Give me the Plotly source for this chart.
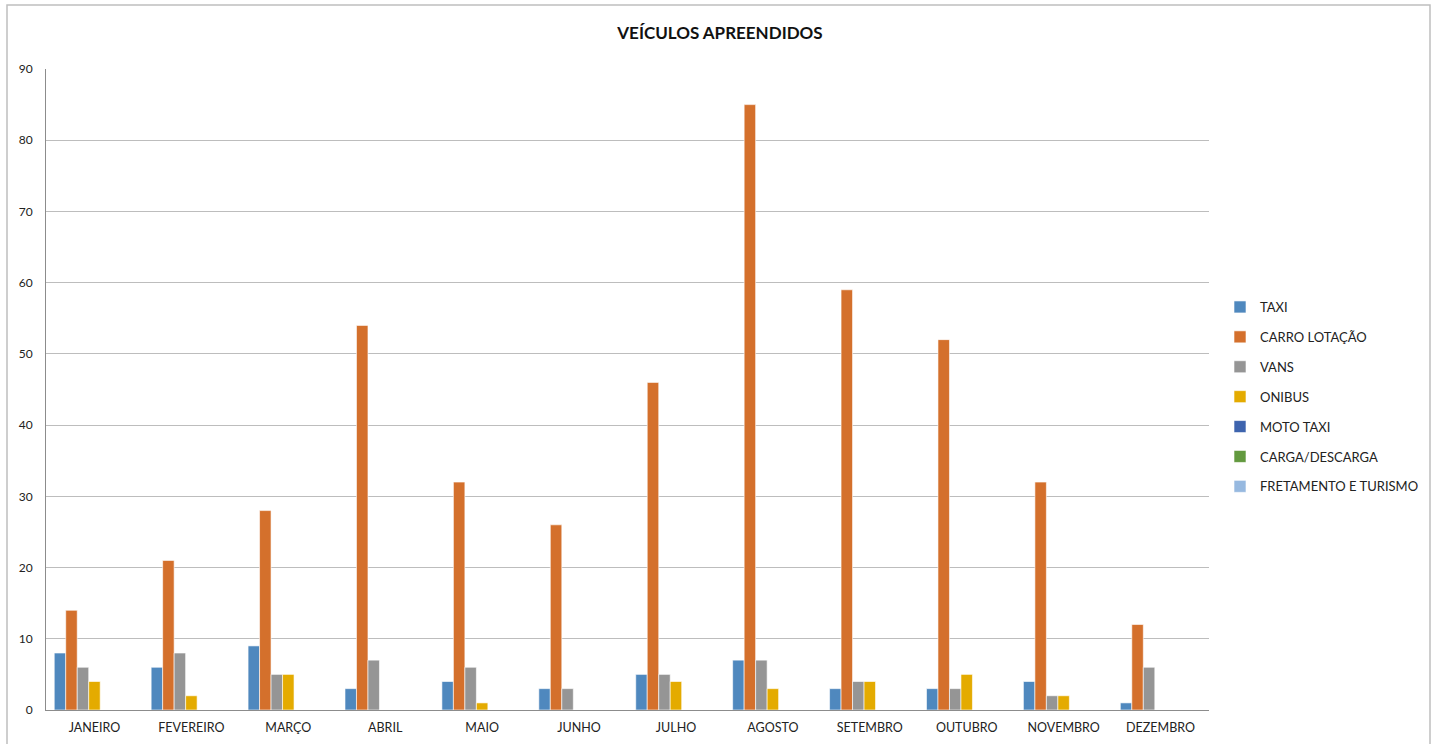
import plotly.graph_objects as go

months = ["JANEIRO", "FEVEREIRO", "MARÇO", "ABRIL", "MAIO", "JUNHO", "JULHO",
          "AGOSTO", "SETEMBRO", "OUTUBRO", "NOVEMBRO", "DEZEMBRO"]
taxi = [8, 6, 9, 3, 4, 3, 5, 7, 3, 3, 4, 1]
carro_lotacao = [14, 21, 28, 54, 32, 26, 46, 85, 59, 52, 32, 12]
vans = [6, 8, 5, 7, 6, 3, 5, 7, 4, 3, 2, 6]
onibus = [4, 2, 5, 0, 1, 0, 4, 3, 4, 5, 2, 0]
moto_taxi = [0] * 12
carga_descarga = [0] * 12
fretamento_turismo = [0] * 12

series = [
    ("TAXI", taxi, "#4F88BE"),
    ("CARRO LOTAÇÃO", carro_lotacao, "#D4702C"),
    ("VANS", vans, "#959595"),
    ("ONIBUS", onibus, "#E4AB00"),
    ("MOTO TAXI", moto_taxi, "#3E64AE"),
    ("CARGA/DESCARGA", carga_descarga, "#62993E"),
    ("FRETAMENTO E TURISMO", fretamento_turismo, "#97B9E0"),
]

FONT = "Lato, Carlito, 'Open Sans', sans-serif"

fig = go.Figure()
for i, (name, vals, color) in enumerate(series):
    fig.add_trace(go.Bar(
        x=months, y=vals, name=name, legendgroup=name,
        marker=dict(color=color, line=dict(color="white", width=0.6)),
    ))

W, H = 1439, 744
L, R, T, B = 46, 1209, 69, 710
pw, ph = R - L, B - T

def px(x):
    return (x - L) / pw

def py(y):
    return (B - y) / ph

fig.update_layout(
    width=W, height=H,
    margin=dict(l=L, r=W - R, t=T, b=H - B, autoexpand=False),
    paper_bgcolor="white", plot_bgcolor="white",
    barmode="group", bargap=0.17, bargroupgap=0,
    font=dict(family=FONT, size=12, color="#222222"),
    title=dict(text="<b>VEÍCULOS APREENDIDOS</b>", x=720 / W, xref="container",
               xanchor="center", y=1 - 33 / H, yanchor="middle",
               font=dict(family=FONT, size=17, color="#111111")),
    legend=dict(x=px(1220), y=py(292), xanchor="left", yanchor="top",
                font=dict(family=FONT, size=13, color="#222222"),
                tracegroupgap=10, itemwidth=30, itemclick=False,
                bgcolor="rgba(0,0,0,0)"),
    showlegend=True,
)
fig.update_xaxes(showgrid=False, showline=True, linecolor="#8C8C8C", linewidth=1,
                 ticks="", ticklabelstandoff=6, automargin=False,
                 tickfont=dict(size=12.5, color="#222222"))
fig.update_yaxes(range=[0, 90], dtick=10, showgrid=True, gridcolor="#BDBDBD",
                 gridwidth=1, showline=True, linecolor="#8C8C8C", linewidth=1,
                 zeroline=False, ticks="", ticklabelstandoff=10, automargin=False,
                 tickfont=dict(size=12, color="#222222"))

# outer chart border
fig.add_shape(type="rect", xref="paper", yref="paper",
              x0=px(7), x1=px(1430), y0=py(780), y1=py(5),
              line=dict(color="#BFBFBF", width=1.5), fillcolor="rgba(0,0,0,0)",
              layer="below")

fig.write_html("out.html")
